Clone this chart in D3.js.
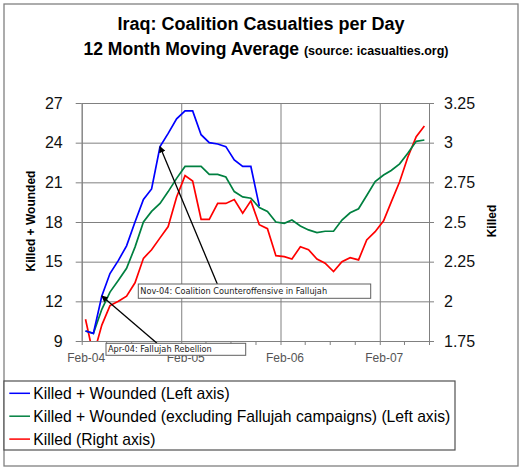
<!DOCTYPE html>
<html>
<head>
<meta charset="utf-8">
<script src="https://cdn.jsdelivr.net/npm/d3@7"></script>
<style>
  body { margin: 0; background: #fff; }
  svg { font-family: "Liberation Sans", Arial, sans-serif; }
  .axis path, .axis line { stroke: #808080; }
  .grid line { stroke: #808080; }
  .grid path { stroke: none; }
</style>
</head>
<body>
<svg width="525" height="470"></svg>
<script>
// monthly points, Feb-04 .. Jul-07
const months = [
  '2004-02', '2004-03', '2004-04', '2004-05', '2004-06', '2004-07', '2004-08', '2004-09', '2004-10', '2004-11', '2004-12',
  '2005-01', '2005-02', '2005-03', '2005-04', '2005-05', '2005-06', '2005-07', '2005-08', '2005-09', '2005-10', '2005-11', '2005-12',
  '2006-01', '2006-02', '2006-03', '2006-04', '2006-05', '2006-06', '2006-07', '2006-08', '2006-09', '2006-10', '2006-11', '2006-12',
  '2007-01', '2007-02', '2007-03', '2007-04', '2007-05', '2007-06', '2007-07'
];

// left axis series (blue stops at Nov-05)
const killedWounded = [
  9.76, 9.58, 12.4, 14.1, 15.1, 16.2, 18.0, 19.7, 20.5, 23.7, 24.7,
  25.8, 26.4, 26.4, 24.6, 24.0, 23.9, 23.7, 22.7, 22.2, 22.2, 19.2
];
const killedWoundedExFallujah = [
  9.76, 9.58, 11.4, 12.7, 13.6, 14.5, 16.1, 18.0, 18.8, 19.4, 20.3,
  21.3, 22.2, 22.2, 22.2, 21.6, 21.6, 21.4, 20.3, 19.9, 19.8, 19.1, 18.8,
  18.0, 17.9, 18.15, 17.7, 17.4, 17.2, 17.3, 17.3, 18.15, 18.7, 19.0, 20.0,
  21.05, 21.55, 21.9, 22.4, 23.2, 24.1, 24.2
];
// right axis series
const killed = [
  1.887, 1.66, 1.85, 1.973, 2.0, 2.033, 2.117, 2.271, 2.325, 2.4, 2.471,
  2.658, 2.792, 2.758, 2.517, 2.517, 2.617, 2.617, 2.642, 2.555, 2.633, 2.483, 2.458,
  2.288, 2.282, 2.267, 2.344, 2.325, 2.267, 2.24, 2.188, 2.25, 2.275, 2.261, 2.387,
  2.439, 2.508, 2.625, 2.754, 2.908, 3.038, 3.105
];

const leftTicks = [9, 12, 15, 18, 21, 24, 27];
const rightTicks = [1.75, 2, 2.25, 2.5, 2.75, 3, 3.25];
const seriesNames = [
  'Killed + Wounded (Left axis)',
  'Killed + Wounded (excluding Fallujah campaigns) (Left axis)',
  'Killed (Right axis)'
];
const seriesColors = ['#0000ff', '#008040', '#ff0000'];
const notes = [
  { month: '2004-11', text: 'Nov-04: Coalition Counteroffensive in Fallujah' },
  { month: '2004-04', text: 'Apr-04: Fallujah Rebellion' }
];

const svg = d3.select('svg');
const plot = { left: 81.7, right: 429, top: 103, bottom: 341 };

const parseMonth = d3.timeParse('%Y-%m');
const dates = months.map(m => d3.timeDay.offset(parseMonth(m), 14));

const xStart = new Date(2004, 1, 1);
const xEnd = new Date(2007, 7, 1);
const x = d3.scaleTime().domain([xStart, xEnd]).range([plot.left, plot.right]);
const yL = d3.scaleLinear().domain([9, 27]).range([plot.bottom, plot.top]);
const yR = d3.scaleLinear().domain([1.75, 3.25]).range([plot.bottom, plot.top]);

// frame
svg.append('rect')
  .attr('x', 4).attr('y', 4).attr('width', 514).attr('height', 462)
  .attr('fill', '#fff').attr('stroke', '#808080').attr('stroke-width', 1.3);

// title
svg.append('text')
  .attr('x', 261).attr('y', 29.5)
  .attr('text-anchor', 'middle')
  .attr('font-size', 18).attr('font-weight', 'bold')
  .text('Iraq: Coalition Casualties per Day');

const t2 = svg.append('text')
  .attr('x', 266).attr('y', 55)
  .attr('text-anchor', 'middle')
  .attr('font-weight', 'bold');
t2.append('tspan').attr('font-size', 17.5).text('12 Month Moving Average ');
t2.append('tspan').attr('font-size', 12.5).text('(source: icasualties.org)');

// tick dates: every 3 months from Feb-04, labels/gridlines on each Feb
const quarterTicks = d3.timeMonth.range(xStart, d3.timeDay.offset(xEnd, 1), 3);
const febTicks = quarterTicks.filter(d => d.getMonth() === 1);

// gridlines
svg.append('g')
  .attr('class', 'grid')
  .attr('transform', `translate(${plot.left},0)`)
  .call(d3.axisLeft(yL).tickValues(leftTicks).tickSize(-(plot.right - plot.left)).tickFormat(''));

svg.append('g')
  .attr('class', 'grid')
  .attr('transform', `translate(0,${plot.bottom})`)
  .call(d3.axisBottom(x).tickValues(febTicks).tickSize(-(plot.bottom - plot.top)).tickFormat(''));

// axes
const axisL = svg.append('g')
  .attr('class', 'axis')
  .attr('transform', `translate(${plot.left},0)`)
  .call(d3.axisLeft(yL).tickValues(leftTicks).tickSize(6).tickPadding(13).tickSizeOuter(0));
axisL.selectAll('text').attr('font-size', 16).attr('fill', '#111').attr('font-family', null);

const axisR = svg.append('g')
  .attr('class', 'axis')
  .attr('transform', `translate(${plot.right},0)`)
  .call(d3.axisRight(yR).tickValues(rightTicks).tickSize(5).tickPadding(10).tickSizeOuter(0)
    .tickFormat(d => String(d)));
axisR.selectAll('text').attr('font-size', 16).attr('fill', '#111').attr('font-family', null);

const axisB = svg.append('g')
  .attr('class', 'axis')
  .attr('transform', `translate(0,${plot.bottom})`)
  .call(d3.axisBottom(x).tickValues(quarterTicks).tickSize(4).tickPadding(8).tickSizeOuter(0)
    .tickFormat(d => (d.getMonth() === 1 ? d3.timeFormat('%b-%y')(d) : '')));
axisB.selectAll('text').attr('font-size', 12).attr('fill', '#555').attr('dx', 4).attr('font-family', null);

// axis titles
svg.append('text')
  .attr('transform', 'translate(35,221) rotate(-90)')
  .attr('text-anchor', 'middle')
  .attr('font-size', 12).attr('font-weight', 'bold')
  .text('Killed + Wounded');

svg.append('text')
  .attr('transform', 'translate(496,221) rotate(-90)')
  .attr('text-anchor', 'middle')
  .attr('font-size', 12).attr('font-weight', 'bold')
  .text('Killed');

// series
svg.append('clipPath').attr('id', 'clip')
  .append('rect')
  .attr('x', plot.left).attr('y', plot.top)
  .attr('width', plot.right - plot.left).attr('height', plot.bottom - plot.top);

const lineL = d3.line().x((d, i) => x(dates[i])).y(d => yL(d));
const lineR = d3.line().x((d, i) => x(dates[i])).y(d => yR(d));

const series = svg.append('g').attr('clip-path', 'url(#clip)');
series.append('path').datum(killed)
  .attr('d', lineR).attr('fill', 'none').attr('stroke', seriesColors[2]).attr('stroke-width', 1.7);
series.append('path').datum(killedWoundedExFallujah)
  .attr('d', lineL).attr('fill', 'none').attr('stroke', seriesColors[1]).attr('stroke-width', 1.7);
series.append('path').datum(killedWounded)
  .attr('d', lineL).attr('fill', 'none').attr('stroke', seriesColors[0]).attr('stroke-width', 1.7);

// annotations
svg.append('defs').append('marker')
  .attr('id', 'arrow')
  .attr('viewBox', '0 0 10 10')
  .attr('refX', 9).attr('refY', 5)
  .attr('markerWidth', 5).attr('markerHeight', 5)
  .attr('orient', 'auto')
  .append('path').attr('d', 'M0,0L10,5L0,10z').attr('fill', '#000');

const noteBoxes = [
  { x0: 138.3, y0: 284, w: 232.4, h: 14.3, ax: 217.3, ay: 284 },
  { x0: 106, y0: 343.3, w: 139.7, h: 12, ax: 156.7, ay: 343 }
];

notes.forEach((n, k) => {
  const b = noteBoxes[k];
  const i = months.indexOf(n.month);
  svg.append('line')
    .attr('x1', b.ax).attr('y1', b.ay)
    .attr('x2', x(dates[i])).attr('y2', yL(killedWounded[i]))
    .attr('stroke', '#000').attr('stroke-width', 1.3)
    .attr('marker-end', 'url(#arrow)');
});

notes.forEach((n, k) => {
  const b = noteBoxes[k];
  svg.append('rect')
    .attr('x', b.x0).attr('y', b.y0).attr('width', b.w).attr('height', b.h)
    .attr('fill', '#fff').attr('stroke', '#606060').attr('stroke-width', 1);
  svg.append('text')
    .attr('x', b.x0 + 2).attr('y', b.y0 + b.h / 2 + 3)
    .attr('font-size', 8.2).attr('fill', '#222')
    .attr('font-family', '"DejaVu Sans", sans-serif')
    .text(n.text);
});

// legend
const legend = svg.append('g');
legend.append('rect')
  .attr('x', 4).attr('y', 381).attr('width', 451).attr('height', 69)
  .attr('fill', '#fff').attr('stroke', '#505050').attr('stroke-width', 1.2);

const rows = legend.selectAll('g.row').data(seriesNames).join('g')
  .attr('class', 'row')
  .attr('transform', (d, i) => `translate(0,${393.3 + i * 22.9})`);
rows.append('line')
  .attr('x1', 9.3).attr('x2', 30)
  .attr('stroke', (d, i) => seriesColors[i]).attr('stroke-width', 1.5);
rows.append('text')
  .attr('x', 33.3).attr('y', 5.6)
  .attr('font-size', 15.7)
  .text(d => d);
</script>
</body>
</html>
